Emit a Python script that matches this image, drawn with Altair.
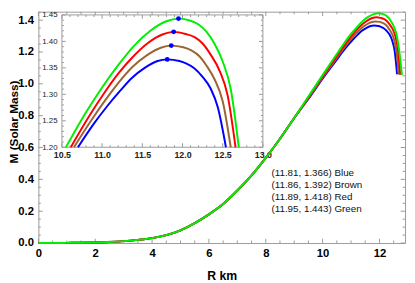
import altair as alt
import pandas as pd

# ---------------- data ----------------
R_common = [0, 0.5, 1, 1.5, 2, 2.5, 3, 3.5, 4, 4.5, 5, 5.5, 6, 6.5, 7, 7.5, 8, 8.5, 9]
M_common = [0, 0, 0.001, 0.002, 0.004, 0.007, 0.012, 0.02, 0.031, 0.05, 0.08, 0.125,
            0.18, 0.245, 0.33, 0.425, 0.535, 0.655, 0.785]

blue_R = [9.5, 10.0, 10.5, 10.70, 10.90, 11.06, 11.22, 11.37, 11.53, 11.69, 11.81,
          11.96, 12.05, 12.15, 12.25, 12.35, 12.44, 12.54, 12.62]
blue_M = [0.905, 1.032, 1.152, 1.200, 1.245, 1.277, 1.306, 1.331, 1.350, 1.363, 1.366,
          1.363, 1.358, 1.349, 1.333, 1.311, 1.275, 1.200, 1.060]
brown_R = [9.5, 10.0, 10.5, 10.65, 10.87, 11.04, 11.21, 11.38, 11.56, 11.73, 11.86,
           12.01, 12.11, 12.21, 12.30, 12.40, 12.50, 12.60, 12.68]
brown_M = [0.910, 1.040, 1.163, 1.200, 1.252, 1.289, 1.323, 1.352, 1.374, 1.388, 1.392,
           1.389, 1.383, 1.372, 1.354, 1.328, 1.287, 1.200, 1.058]
red_R = [9.5, 10.0, 10.5, 10.61, 10.84, 11.02, 11.20, 11.39, 11.57, 11.75, 11.89,
         12.04, 12.15, 12.25, 12.35, 12.46, 12.56, 12.66, 12.73]
red_M = [0.915, 1.047, 1.172, 1.200, 1.259, 1.301, 1.339, 1.372, 1.397, 1.413, 1.418,
         1.414, 1.408, 1.396, 1.375, 1.345, 1.299, 1.200, 1.057]
green_R = [9.5, 10.0, 10.5, 10.55, 10.80, 11.00, 11.20, 11.40, 11.60, 11.80, 11.95,
           12.10, 12.20, 12.30, 12.40, 12.50, 12.60, 12.70, 12.79]
green_M = [0.920, 1.055, 1.187, 1.200, 1.266, 1.313, 1.355, 1.392, 1.420, 1.438, 1.443,
           1.439, 1.432, 1.418, 1.395, 1.362, 1.310, 1.200, 1.055]

names = ["Blue", "Brown", "Red", "Green"]
peak_R = [11.81, 11.86, 11.89, 11.95]
peak_M = [1.366, 1.392, 1.418, 1.443]

main_x_major = [0, 2, 4, 6, 8, 10, 12]
main_x_minor = [0.5, 1, 1.5, 2.5, 3, 3.5, 4.5, 5, 5.5, 6.5, 7, 7.5, 8.5, 9, 9.5,
                10.5, 11, 11.5, 12.5]
main_y_major = [0, 0.2, 0.4, 0.6, 0.8, 1.0, 1.2, 1.4]
main_y_minor = [0.05, 0.1, 0.15, 0.25, 0.3, 0.35, 0.45, 0.5, 0.55, 0.65, 0.7, 0.75,
                0.85, 0.9, 0.95, 1.05, 1.1, 1.15, 1.25, 1.3, 1.35, 1.45]
inset_x_major = [10.5, 11.0, 11.5, 12.0, 12.5, 13.0]
inset_x_minor = [10.6, 10.7, 10.8, 10.9, 11.1, 11.2, 11.3, 11.4, 11.6, 11.7, 11.8, 11.9,
                 12.1, 12.2, 12.3, 12.4, 12.6, 12.7, 12.8, 12.9]
inset_y_major = [1.20, 1.25, 1.30, 1.35, 1.40, 1.45]
inset_y_minor = [1.21, 1.22, 1.23, 1.24, 1.26, 1.27, 1.28, 1.29, 1.31, 1.32, 1.33, 1.34,
                 1.36, 1.37, 1.38, 1.39, 1.41, 1.42, 1.43, 1.44]

main_x_domain = [0, 12.9]
main_y_domain = [0, 1.453]

# ---------------- styling ----------------
FONT = "Liberation Sans"
GRAY = "#9a9a9a"
colors = {"Blue": "#0000ff", "Brown": "#996633", "Red": "#ff0000", "Green": "#00ee00"}
W, H = 374, 236

xs_main = alt.Scale(domain=main_x_domain, nice=False, zero=False)
ys_main = alt.Scale(domain=main_y_domain, nice=False, zero=False)
xs_in = alt.Scale(domain=[inset_x_major[0], inset_x_major[-1]], range=[24, 229],
                  nice=False, zero=False)
ys_in = alt.Scale(domain=[inset_y_major[0], inset_y_major[-1]], range=[138.3, 3.3],
                  nice=False, zero=False)

x_axis_main = alt.Axis(values=main_x_major, format="d", title="R km", orient="bottom",
                       titleFont=FONT, titleFontSize=12.5, titleFontWeight="bold",
                       titleX=187, titleY=37.7, titleAngle=0, titleAlign="center",
                       titleBaseline="alphabetic", titleColor="black",
                       labelFont=FONT, labelFontSize=11.5, labelFontWeight="bold",
                       labelColor="black", labelPadding=5, labelFlush=False,
                       labelOverlap=False, ticks=False, tickSize=0, domain=False,
                       grid=False)
y_axis_main = alt.Axis(values=main_y_major, format=".1f", title="M (Solar Mass)",
                       orient="left",
                       titleFont=FONT, titleFontSize=12, titleFontWeight="bold",
                       titleX=-25, titleY=112, titleAngle=270, titleAlign="center",
                       titleBaseline="middle", titleColor="black",
                       labelFont=FONT, labelFontSize=11.5, labelFontWeight="bold",
                       labelColor="black", labelPadding=5, labelFlush=False,
                       labelOverlap=False, ticks=False, tickSize=0, domain=False,
                       grid=False)
x_axis_in = alt.Axis(values=inset_x_major, format=".1f", title=None, orient="bottom",
                     offset=-97.7, labelFont=FONT, labelFontSize=9,
                     labelFontWeight="bold", labelColor="#222", labelPadding=3,
                     labelFlush=False, labelOverlap=False, ticks=False, tickSize=0,
                     domain=False, grid=False)
y_axis_in = alt.Axis(values=inset_y_major, format=".2f", title=None, orient="left",
                     offset=-24, labelFont=FONT, labelFontSize=8,
                     labelColor="#222", labelPadding=5, labelFlush=False,
                     labelOverlap=False, ticks=False, tickSize=0, domain=False,
                     grid=False)

series = [("Blue", blue_R, blue_M), ("Brown", brown_R, brown_M),
          ("Red", red_R, red_M), ("Green", green_R, green_M)]


def tick_layer(vals, edge, along, length, sign, xs, ys):
    df = pd.DataFrame({"v": vals, "e": [edge] * len(vals)})
    if along == "x":
        return alt.Chart(df).mark_tick(orient="vertical", size=length, thickness=1,
                                       color=GRAY, opacity=1,
                                       yOffset=sign * length / 2).encode(
            x=alt.X("v:Q", scale=xs, axis=None), y=alt.Y("e:Q", scale=ys, axis=None))
    return alt.Chart(df).mark_tick(orient="horizontal", size=length, thickness=1,
                                   color=GRAY, opacity=1,
                                   xOffset=sign * length / 2).encode(
        x=alt.X("e:Q", scale=xs, axis=None), y=alt.Y("v:Q", scale=ys, axis=None))


def frame_ticks(xmaj, xmin, ymaj, ymin, xd, yd, big, small, xs, ys):
    return [
        tick_layer(xmaj, yd[0], "x", big, -1, xs, ys),
        tick_layer(xmin, yd[0], "x", small, -1, xs, ys),
        tick_layer(xmaj, yd[1], "x", big, 1, xs, ys),
        tick_layer(xmin, yd[1], "x", small, 1, xs, ys),
        tick_layer(ymaj, xd[0], "y", big, 1, xs, ys),
        tick_layer(ymin, xd[0], "y", small, 1, xs, ys),
        tick_layer(ymaj, xd[1], "y", big, -1, xs, ys),
        tick_layer(ymin, xd[1], "y", small, -1, xs, ys),
    ]


# ---------------- main panel ----------------
main_layers = frame_ticks(main_x_major, main_x_minor, main_y_major, main_y_minor,
                          main_x_domain, main_y_domain, 4.5, 2.5, xs_main, ys_main)
for k, (name, R, M) in enumerate(series):
    df = pd.DataFrame({"R": R_common + R, "M": M_common + M})
    main_layers.append(
        alt.Chart(df).mark_line(color=colors[name], strokeWidth=2,
                                interpolate="monotone").encode(
            x=alt.X("R:Q", scale=xs_main, axis=x_axis_main if k == 0 else None),
            y=alt.Y("M:Q", scale=ys_main, axis=y_axis_main if k == 0 else None)))

label_lines = [f"({r:.2f}, {m:.3f}) {n}" for r, m, n in zip(peak_R, peak_M, names)]
text_df = pd.DataFrame({"x": [8.2], "y": [0.437], "t": ["\n".join(label_lines)]})
main_layers.append(
    alt.Chart(text_df).mark_text(align="left", baseline="middle", lineBreak="\n",
                                 lineHeight=12, font=FONT, fontSize=10,
                                 color="#111").encode(
        x=alt.X("x:Q", scale=xs_main, axis=None),
        y=alt.Y("y:Q", scale=ys_main, axis=None),
        text="t:N"))

# ---------------- inset panel ----------------
box_df = pd.DataFrame({"x0": [inset_x_major[0]], "x1": [inset_x_major[-1]],
                       "y0": [inset_y_major[0]], "y1": [inset_y_major[-1]]})
inset_layers = [
    alt.Chart(box_df).mark_rect(fill="white", stroke=GRAY, strokeWidth=1).encode(
        x=alt.X("x0:Q", scale=xs_in, axis=None), x2="x1:Q",
        y=alt.Y("y0:Q", scale=ys_in, axis=None), y2="y1:Q")
]
inset_layers += frame_ticks(inset_x_major, inset_x_minor, inset_y_major, inset_y_minor,
                            [inset_x_major[0], inset_x_major[-1]],
                            [inset_y_major[0], inset_y_major[-1]], 4, 2, xs_in, ys_in)
for k, (name, R, M) in enumerate(series):
    df = pd.DataFrame({"R": R_common + R, "M": M_common + M})
    inset_layers.append(
        alt.Chart(df).transform_filter("datum.M >= 1.1999").mark_line(
            color=colors[name], strokeWidth=2, interpolate="monotone").encode(
            x=alt.X("R:Q", scale=xs_in, axis=x_axis_in if k == 0 else None),
            y=alt.Y("M:Q", scale=ys_in, axis=y_axis_in if k == 0 else None)))

peak_df = pd.DataFrame({"R": peak_R, "M": peak_M})
inset_layers.append(
    alt.Chart(peak_df).mark_point(filled=True, size=24, color="#0000ff",
                                  opacity=1).encode(
        x=alt.X("R:Q", scale=xs_in, axis=None),
        y=alt.Y("M:Q", scale=ys_in, axis=None)))

chart = alt.layer(*main_layers, *inset_layers).resolve_scale(
    x="independent", y="independent"
).properties(
    width=W, height=H, autosize="none",
    padding={"left": 31, "top": 1, "right": 2, "bottom": 38},
    background="white",
).configure_view(stroke=GRAY, strokeWidth=1)

chart.save("out.html", embed_options={"renderer": "svg", "actions": False})
